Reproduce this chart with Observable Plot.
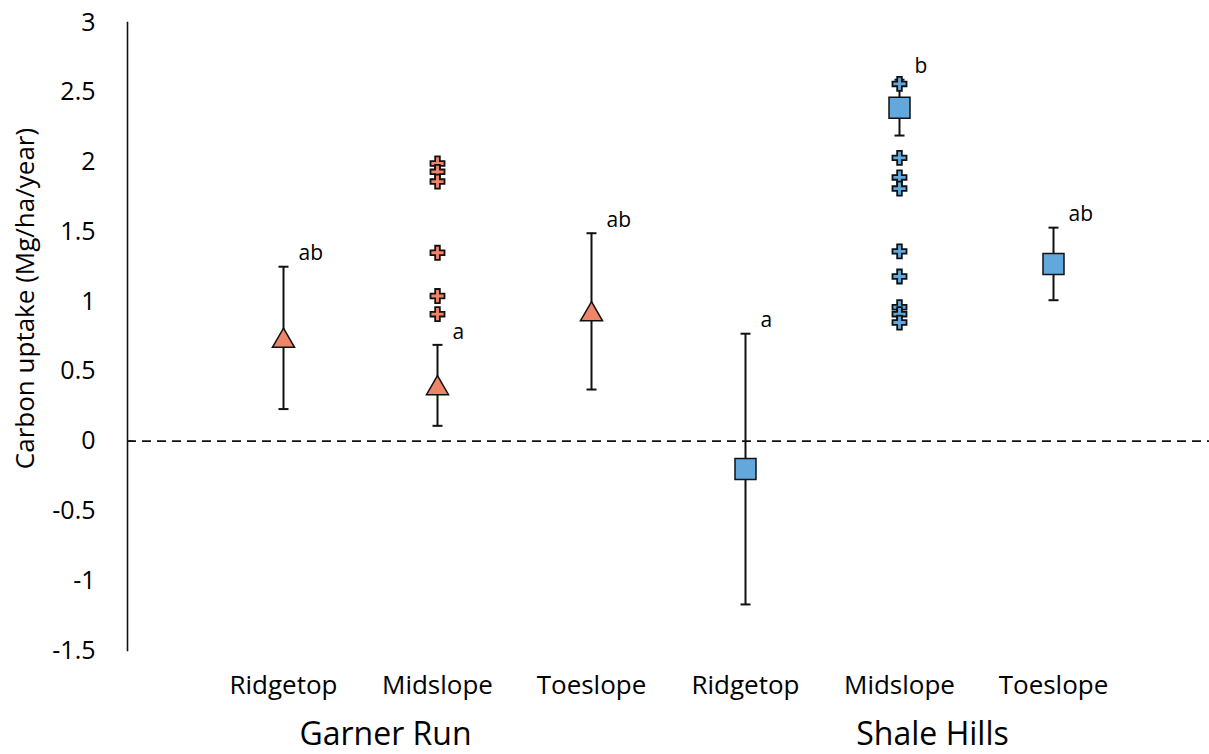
<!DOCTYPE html>
<html>
<head>
<meta charset="utf-8">
<script src="https://cdn.jsdelivr.net/npm/d3@7"></script>
<script src="https://cdn.jsdelivr.net/npm/@observablehq/plot@0.6"></script>
<style>
  body { margin: 0; background: #fff; }
  #chart svg { display: block; }
</style>
</head>
<body>
<div id="chart"></div>
<script>
// Carbon uptake by hillslope position at two catchments
const sites = ["Garner Run", "Shale Hills"];
const slopes = ["Ridgetop", "Midslope", "Toeslope"];
const meanUptake = [0.74, 0.40, 0.93, -0.20, 2.39, 1.27];
const errorHalfWidth = [0.51, 0.29, 0.56, 0.97, 0.20, 0.26];
const groupLetters = ["ab", "a", "ab", "a", "b", "ab"];
// individual midslope plots
const garnerMidslopePlots = [1.99, 1.93, 1.86, 1.35, 1.04, 0.91];
const shaleMidslopePlots = [2.56, 2.03, 1.89, 1.81, 1.36, 1.18, 0.96, 0.91, 0.85];
const yTicks = [-1.5, -1, -0.5, 0, 0.5, 1, 1.5, 2, 2.5, 3];
const siteColors = ["#EE8468", "#62A8DC"];

const categories = sites.flatMap(s => slopes.map(p => `${s} ${p}`));
const slopeOf = new Map(categories.map((c, i) => [c, slopes[i % slopes.length]]));
const summary = categories.map((c, i) => ({
  category: c,
  site: sites[Math.floor(i / slopes.length)],
  mean: meanUptake[i],
  lo: meanUptake[i] - errorHalfWidth[i],
  hi: meanUptake[i] + errorHalfWidth[i],
  letter: groupLetters[i]
}));
const plots = [
  ...garnerMidslopePlots.map(v => ({category: categories[1], site: sites[0], value: v})),
  ...shaleMidslopePlots.map(v => ({category: categories[4], site: sites[1], value: v}))
];

// horizontal cap for error bars, centred on the point
const capSymbol = {draw(ctx, size) { const w = Math.sqrt(size) / 2; ctx.moveTo(-w, 0); ctx.lineTo(w, 0); }};
// short inward tick on the y axis
const inwardTick = {draw(ctx, size) { ctx.moveTo(0, 0); ctx.lineTo(Math.sqrt(size), 0); }};

const ink = "#111";

const chart = Plot.plot({
  width: 1209,
  height: 754,
  marginTop: 22,
  marginBottom: 104,
  marginLeft: 127,
  marginRight: 0,
  style: {fontFamily: "'Open Sans', sans-serif", background: "#fff", color: "#000"},
  x: {type: "point", domain: categories, padding: 1},
  y: {domain: [-1.5, 3]},
  color: {domain: sites, range: siteColors},
  marks: [
    Plot.ruleY([0], {stroke: ink, strokeWidth: 1.8, strokeDasharray: "9,6"}),
    Plot.frame({anchor: "left", stroke: ink, strokeWidth: 1.6}),
    Plot.dot([0], {y: d => d, frameAnchor: "left", symbol: inwardTick, r: 3.4, stroke: ink, strokeWidth: 1.6, fill: "none"}),
    Plot.axisY({ticks: yTicks, tickSize: 0, tickPadding: 32, tickFormat: d => String(d), fontSize: 25, label: null}),
    Plot.axisX({tickSize: 0, tickPadding: 25, tickFormat: k => slopeOf.get(k), fontSize: 26, label: null}),
    Plot.text(["Carbon uptake (Mg/ha/year)"], {text: d => d, frameAnchor: "left", textAnchor: "middle", lineAnchor: "middle", rotate: -90, dx: -102, dy: -38, fontSize: 26}),
    Plot.text([sites[0]], {x: () => categories[1], text: d => d, frameAnchor: "bottom", lineAnchor: "top", dy: 72, dx: -52, fontSize: 32}),
    Plot.text([sites[1]], {x: () => categories[4], text: d => d, frameAnchor: "bottom", lineAnchor: "top", dy: 72, dx: 33, fontSize: 32}),
    // error bars
    Plot.ruleX(summary, {x: "category", y1: "lo", y2: "hi", stroke: ink, strokeWidth: 2}),
    Plot.dot(summary, {x: "category", y: "lo", symbol: capSymbol, r: 5.64, stroke: ink, strokeWidth: 2, fill: "none"}),
    Plot.dot(summary, {x: "category", y: "hi", symbol: capSymbol, r: 5.64, stroke: ink, strokeWidth: 2, fill: "none"}),
    // means
    Plot.dot(summary.filter(d => d.site === sites[0]), {x: "category", y: "mean", symbol: "triangle", r: 8.2, dy: 3, fill: "site", stroke: ink, strokeWidth: 1.5}),
    Plot.dot(summary.filter(d => d.site === sites[1]), {x: "category", y: "mean", symbol: "square", r: 11.85, fill: "site", stroke: ink, strokeWidth: 1.5}),
    // individual plots
    Plot.dot(plots, {x: "category", y: "value", symbol: "cross", r: 5.9, fill: "site", stroke: ink, strokeWidth: 1.8}),
    // significance letters
    Plot.text(summary, {x: "category", y: "hi", text: "letter", dx: 15, dy: -13, textAnchor: "start", fontSize: 21})
  ]
});

document.getElementById("chart").append(chart);
</script>
</body>
</html>
